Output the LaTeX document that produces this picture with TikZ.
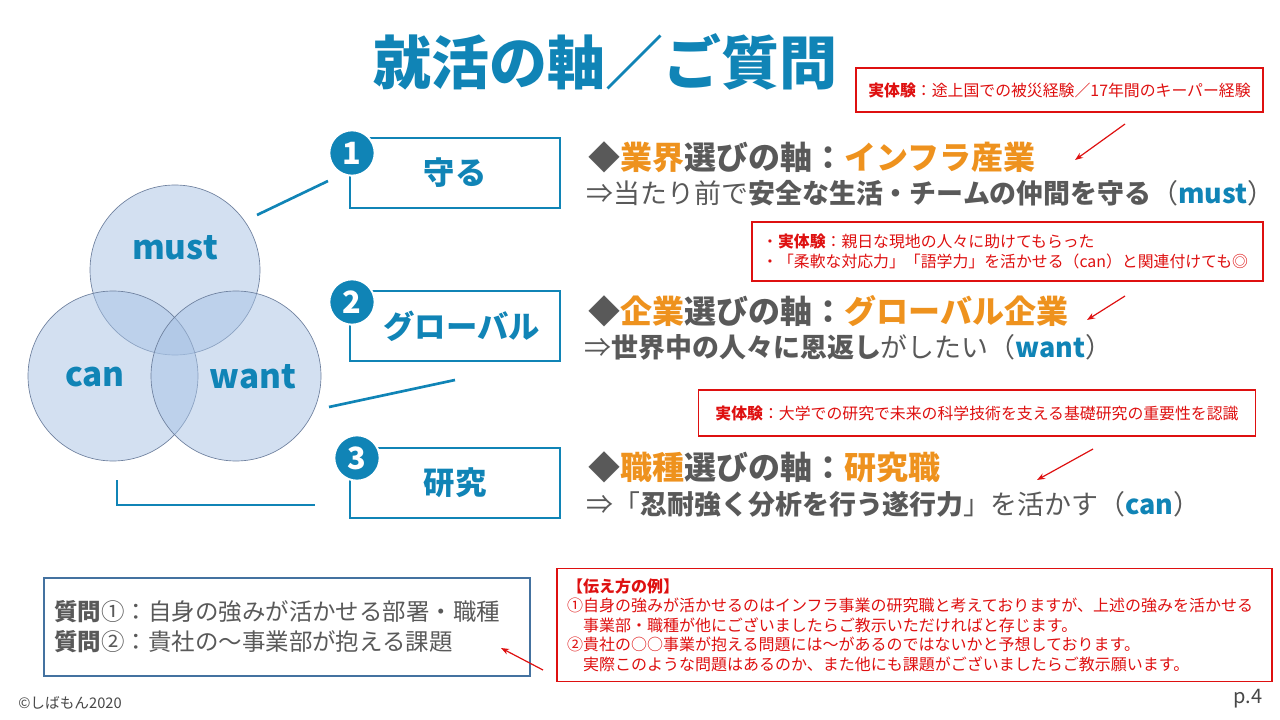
\documentclass[tikz,border=0pt]{standalone}
\usepackage{fontspec}
\setmainfont{Noto Sans CJK JP}
\usepackage{tikz}
\usetikzlibrary{positioning,calc}
\usetikzlibrary{arrows.meta}
\definecolor{AxisBlue}{RGB}{16,132,182}
\definecolor{AxisOrange}{RGB}{238,146,30}
\definecolor{TextGray}{RGB}{89,89,89}
\definecolor{NoteRed}{RGB}{222,16,16}
\definecolor{AskBlue}{RGB}{68,114,160}
\definecolor{VennFill}{RGB}{167,194,228}
\definecolor{VennLine}{RGB}{110,128,158}
\tikzset{
  venn/.style={draw=VennLine,fill=VennFill,fill opacity=0.5,line width=0.5pt},
  vlab/.style={text=AxisBlue,font=\fontsize{25}{25}\selectfont\bfseries},
  link/.style={draw=AxisBlue,line width=2pt},
  axis/.style={draw=AxisBlue,line width=1.5pt,fill=white,minimum width=157pt,minimum height=52pt,
    text=AxisBlue,font=\fontsize{23.5}{23.5}\selectfont\bfseries},
  num/.style={circle,fill=AxisBlue,draw=white,line width=1.5pt,minimum size=34pt,inner sep=0pt,
    text=white,font=\fontsize{23}{23}\selectfont\bfseries},
}
\tikzset{head/.style={anchor=west,text=TextGray,font=\fontsize{24}{28}\selectfont\bfseries},
  sub/.style={anchor=west,text=TextGray,font=\fontsize{20.2}{24}\selectfont},
  note/.style={draw=NoteRed,line width=1.2pt,text=NoteRed,inner sep=7.5pt,align=left,font=\fontsize{11.9}{14.5}\selectfont},
  hint/.style={draw=NoteRed,line width=0.9pt,-{Stealth[length=6pt,width=4.5pt]}}}

\begin{document}
\begin{tikzpicture}[x=0.75pt,y=-0.75pt]
\useasboundingbox (0,0) rectangle (1280,720);
% title
\node[text=AxisBlue,font=\fontsize{43.5}{43.5}\selectfont\bfseries] (title) at (605,62) {就活の軸／ご質問};
% venn
\draw[venn] (175,270) circle[radius=85];
\draw[venn] (113,376) circle[radius=85];
\draw[venn] (236,376) circle[radius=85];
\node[vlab] (must) at (175,248) {must};
\node[vlab] (can) at (95,377) {can};
\node[vlab] (want) at (253,377) {want};
% three axes
\node[axis] (box1) at (455,173) {守る};
\node[axis] (box2) at (455,326) {\hspace*{10pt}グローバル};
\node[axis] (box3) at (455,483) {研究};
\node[num] (num1) at (352,153) {1};
\node[num] (num2) at (352,302) {2};
\node[num] (num3) at (357,458) {3};
\coordinate (ma) at (257,215);
\coordinate (mb) at (328,181);
\coordinate (wa) at (329,407);
\coordinate (wb) at (455,380);
\coordinate (ca) at (117,480);
\coordinate (cb) at (117,505);
\coordinate (cc) at (315,505);
\draw[link] (ma)--(mb);
\draw[link] (wa)--(wb);
\draw[link] (ca)--(cb)--(cc);
% right side
\node[head] (h1) at (584,157) {◆{\color{AxisOrange}業界}選びの軸：{\color{AxisOrange}インフラ産業}};
\node[sub] (s1) at (582,193) {⇒当たり前で{\bfseries 安全な生活・チームの仲間を守る}（{\bfseries\color{AxisBlue}must}）};
\node[head] (h2) at (584,311) {◆{\color{AxisOrange}企業}選びの軸：{\color{AxisOrange}グローバル企業}};
\node[sub] (s2) at (580,347) {⇒{\bfseries 世界中の人々に恩返し}がしたい（{\bfseries\color{AxisBlue}want}）};
\node[head] (h3) at (584,467) {◆{\color{AxisOrange}職種}選びの軸：{\color{AxisOrange}研究職}};
\node[sub] (s3) at (582,504) {⇒「{\bfseries 忍耐強く分析を行う遂行力}」を活かす（{\bfseries\color{AxisBlue}can}）};
% notes
\node[note,minimum width=305pt,minimum height=33pt,align=center] (note1) at (1059.5,90) {{\bfseries 実体験}：途上国での被災経験／17年間のキーパー経験};
\node[note,text width=368pt,minimum height=44pt] (note2) at (1007.5,251.5) {・{\bfseries 実体験}：親日な現地の人々に助けてもらった\\・「柔軟な対応力」「語学力」を活かせる（can）と関連付けても◎};
\node[note,minimum width=418pt,minimum height=34.5pt,align=center] (note3) at (977,413) {{\bfseries 実体験}：大学での研究で未来の科学技術を支える基礎研究の重要性を認識};
\node[note,text width=521pt,minimum height=82.5pt,font=\fontsize{12}{14.6}\selectfont] (note4) at (914.5,625) {{\bfseries 【伝え方の例】}\\①自身の強みが活かせるのはインフラ事業の研究職と考えておりますが、上述の強みを活かせる\\　事業部・職種が他にございましたらご教示いただければと存じます。\\②貴社の○○事業が抱える問題には～があるのではないかと予想しております。\\　実際このような問題はあるのか、また他にも課題がございましたらご教示願います。};
\node[draw=AskBlue,line width=1.5pt,minimum width=364.5pt,minimum height=73.5pt,text width=349pt,inner sep=7.5pt,align=left,text=TextGray,font=\fontsize{17.6}{22.5}\selectfont] (ask) at (287,627) {{\bfseries 質問}①：自身の強みが活かせる部署・職種\\{\bfseries 質問}②：貴社の～事業部が抱える課題};
\coordinate (t1) at (1125,124);
\coordinate (e1) at (1075,160);
\coordinate (t2) at (1125,296);
\coordinate (e2) at (1087,320);
\coordinate (t3) at (1093,449);
\coordinate (e3) at (1037,480);
\coordinate (t4) at (543,670);
\coordinate (e4) at (501,648);
\draw[hint] (t1)--(e1);
\draw[hint] (t2)--(e2);
\draw[hint] (t3)--(e3);
\draw[hint] (t4)--(e4);
% footer
\node[text=TextGray!80!black,font=\fontsize{11}{11}\selectfont] (copy) at (70,703) {©しばもん2020};
\node[text=TextGray!80!black,font=\fontsize{15}{15}\selectfont] (page) at (1248,699) {p.4};
\end{tikzpicture}
\end{document}
